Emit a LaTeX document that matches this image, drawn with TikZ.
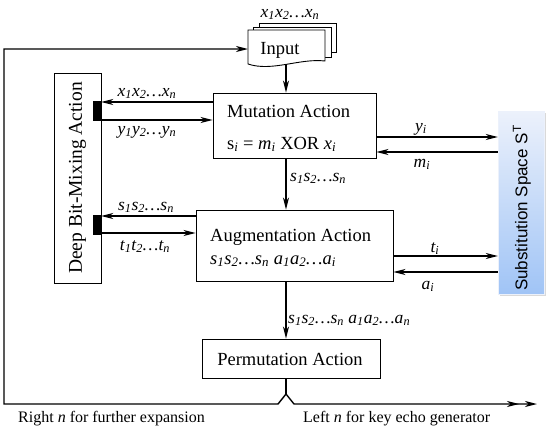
\documentclass[tikz,border=0pt]{standalone}
\usepackage{fontspec}
\setmainfont{Liberation Serif}
\setsansfont{Liberation Sans}
\usetikzlibrary{arrows.meta,shadows}
\definecolor{subtop}{RGB}{236,241,251}
\definecolor{subbot}{RGB}{160,196,246}
\newcommand{\sq}[2]{\textit{#1\textsubscript{1}#1\textsubscript{2}…#1\textsubscript{#2}}}
\newcommand{\vi}[1]{\textit{#1\textsubscript{i}}}
\begin{document}
\begin{tikzpicture}[x=1pt,y=-1pt,
  every node/.style={inner sep=0pt},
  boxfont/.style={font=\fontsize{18.5}{22}\selectfont},
  lab/.style={font=\fontsize{17.5}{20}\selectfont},
  botfont/.style={font=\fontsize{16}{19}\selectfont},
  arr/.style={line width=1.4pt, -{Stealth[length=12pt,width=6pt,inset=3.5pt]}},
  dbl/.style={line width=1.4pt, -{Stealth[length=12pt,width=6pt,inset=3.5pt,sep=6pt]Stealth[length=12pt,width=6pt,inset=3.5pt]}},
  plain/.style={line width=1.4pt},
  bx/.style={draw, line width=0.9pt, fill=white},
  sheet/.style={draw, line width=0.9pt, fill=white}]
\useasboundingbox (0,0) rectangle (550,429);

% Input stack
\draw[sheet] (259,23) rectangle (336,52);
\draw[sheet] (253,27) rectangle (331,57);
\draw[sheet] (248,30) -- (325,30) -- (325,61) .. controls (300,58) and (272,72) .. (248,64) -- cycle;
\node[boxfont, anchor=base] (inp) at (280,54) {Input};
\node[lab, anchor=base] (inpT) at (290,17) {\sq{x}{n}};
\coordinate (inB) at (286,64);
\coordinate (inL) at (248,49);

% Boxes
\node[bx, minimum width=163pt, minimum height=65pt] (mut) at (294.5,125.5) {};
\node[boxfont, anchor=base west] (mutT) at (227,117) {Mutation Action};
\node[boxfont, anchor=base west] (mutE) at (227,149) {s\textsubscript{\itshape i} = \vi{m} XOR \vi{x}};

\node[bx, minimum width=197pt, minimum height=71pt] (aug) at (294.5,245.5) {};
\node[boxfont, anchor=base west] (augT) at (210,241) {Augmentation Action};
\node[boxfont, anchor=base west] (augE) at (210,264) {\sq{s}{n} \sq{a}{i}};

\node[bx, minimum width=178pt, minimum height=39pt] (perm) at (291,358.5) {};
\node[boxfont, anchor=base] (permT) at (290,365) {Permutation Action};

\node[bx, rotate=90, minimum width=210pt, minimum height=47pt, font=\fontsize{19.5}{22}\selectfont] (deep) at (77.5,178) {Deep Bit-Mixing Action};

\node[fill=black, minimum width=8pt, minimum height=20pt] (bar1) at (97,111) {};
\node[fill=black, minimum width=8pt, minimum height=20pt] (bar2) at (97,225) {};

\node[minimum width=46pt, minimum height=183pt, top color=subtop, bottom color=subbot, draw=subtop,
      drop shadow={opacity=0.3, shadow xshift=2pt, shadow yshift=-2pt}] (sub) at (521,202.5) {};
\node[rotate=90, font=\sffamily\fontsize{17}{19}\selectfont] (subT) at (522,208) {Substitution Space S\textsuperscript{T}};

% Main flow
\draw[arr] (inB) -- (mut.north -| inB);
\draw[arr] (mut.south -| inB) -- (aug.north -| inB);
\draw[arr] (aug.south -| inB) -- (perm.north -| inB);
\node[lab, anchor=base west] (lS) at (290,181) {\sq{s}{n}};
\node[lab, anchor=base west] (lSA) at (288,323) {\sq{s}{n} \sq{a}{n}};

% Deep bit mixing connectors
\draw[arr] (mut.west |- 0,102) -- (bar1.east |- 0,102);
\draw[arr] (bar1.east |- 0,120) -- (mut.west |- 0,120);
\draw[arr] (aug.west |- 0,216) -- (bar2.east |- 0,216);
\draw[arr] (bar2.east |- 0,233) -- (aug.west |- 0,233);
\node[lab, anchor=base] (lX) at (147,96) {\sq{x}{n}};
\node[lab, anchor=base] (lY) at (147,134) {\sq{y}{n}};
\node[lab, anchor=base] (lS2) at (146,210) {\sq{s}{n}};
\node[lab, anchor=base] (lT) at (145,250) {\sq{t}{n}};

% Substitution connectors
\draw[arr] (mut.east |- 0,137) -- (sub.west |- 0,137);
\draw[arr] (sub.west |- 0,152) -- (mut.east |- 0,152);
\draw[arr] (aug.east |- 0,256) -- (sub.west |- 0,256);
\draw[arr] (sub.west |- 0,272) -- (aug.east |- 0,272);
\node[lab, anchor=base] (lyi) at (421,131) {\vi{y}};
\node[lab, anchor=base] (lmi) at (422,167) {\vi{m}};
\node[lab, anchor=base] (lti) at (435,252) {\vi{t}};
\node[lab, anchor=base] (lai) at (428,289) {\vi{a}};

% Output split
\coordinate (apex) at (286,394);
\coordinate (chL) at (278,404);
\coordinate (chR) at (294,404);
\coordinate (bl) at (4,404);
\coordinate (tl) at (4,49);
\coordinate (outE) at (537,404);
\draw[plain] (perm.south -| apex) -- (apex);
\draw[arr, line join=miter] (apex) -- (chL) -- (bl) -- (tl) -- (inL);
\draw[dbl] (apex) -- (chR) -- (outE);
\node[botfont, anchor=base west] (rN) at (18,422) {Right \textit{n} for further expansion};
\node[botfont, anchor=base west] (lN) at (303,422) {Left \textit{n} for key echo generator};
\end{tikzpicture}
\end{document}
